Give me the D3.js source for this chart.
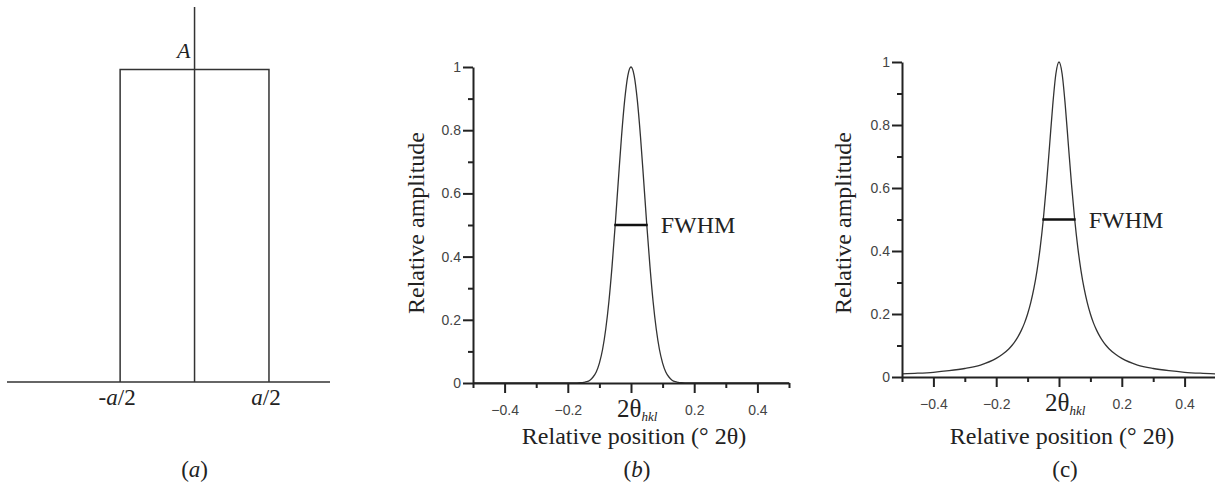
<!DOCTYPE html>
<html>
<head>
<meta charset="utf-8">
<script src="https://cdn.jsdelivr.net/npm/d3@7"></script>
<style>
  body { margin: 0; background: #fff; }
  .serif { font-family: "Liberation Serif", "Times New Roman", serif; fill: #222; }
</style>
</head>
<body>
<div id="chart-area"></div>
<script>
/*
*    profile shapes: box, gaussian, lorentzian
*/

// panel (a) box function
var boxEdges = [-0.5, 0.5];
var boxHeight = 1;
var boxLabels = ["-a/2", "a/2"];

// panels (b) and (c) profile samples
var posX = [-0.5, -0.45, -0.4, -0.35, -0.3, -0.25, -0.2, -0.18, -0.16, -0.15, -0.14, -0.13, -0.12, -0.11, -0.1,
            -0.09, -0.08, -0.07, -0.06, -0.05, -0.04, -0.03, -0.02, -0.01, 0,
            0.01, 0.02, 0.03, 0.04, 0.05, 0.06, 0.07, 0.08, 0.09, 0.1,
            0.11, 0.12, 0.13, 0.14, 0.15, 0.16, 0.18, 0.2, 0.25, 0.3, 0.35, 0.4, 0.45, 0.5];
var gaussY = [0, 0, 0, 0, 0, 0, 0, 0, 0.001, 0.002, 0.004, 0.009, 0.019, 0.035, 0.063,
              0.106, 0.17, 0.257, 0.369, 0.5, 0.642, 0.78, 0.895, 0.973, 1,
              0.973, 0.895, 0.78, 0.642, 0.5, 0.369, 0.257, 0.17, 0.106, 0.063,
              0.035, 0.019, 0.009, 0.004, 0.002, 0.001, 0, 0, 0, 0, 0, 0, 0, 0];
var lorentzY = [0.01, 0.012, 0.015, 0.02, 0.027, 0.038, 0.059, 0.072, 0.089, 0.1, 0.113, 0.129, 0.148, 0.171, 0.2,
                0.236, 0.281, 0.338, 0.41, 0.5, 0.61, 0.735, 0.862, 0.962, 1,
                0.962, 0.862, 0.735, 0.61, 0.5, 0.41, 0.338, 0.281, 0.236, 0.2,
                0.171, 0.148, 0.129, 0.113, 0.1, 0.089, 0.072, 0.059, 0.038, 0.027, 0.02, 0.015, 0.012, 0.01];
var fwhmHalf = 0.053;

var xMajor = [-0.4, -0.2, 0, 0.2, 0.4];
var xMinor = [-0.5, -0.3, -0.1, 0.1, 0.3, 0.5];
var yMajor = [0, 0.2, 0.4, 0.6, 0.8, 1];
var yMinor = [0.1, 0.3, 0.5, 0.7, 0.9];

var svg = d3.select("#chart-area").append("svg").attr("width", 1215).attr("height", 487)
            .style("background", "#fff");

// ---------- panel (a) ----------
var ax = d3.scaleLinear().domain([-1.26, 0.91]).range([7, 330]);
var ay = d3.scaleLinear().domain([0, 1.2]).range([382, 7]);
var ga = svg.append("g");

ga.append("line").attr("x1", ax(-1.26)).attr("x2", ax(0.91)).attr("y1", ay(0)).attr("y2", ay(0))
  .attr("stroke", "#333").attr("stroke-width", 1.5);
ga.append("line").attr("x1", ax(0)).attr("x2", ax(0)).attr("y1", ay(0)).attr("y2", ay(1.2))
  .attr("stroke", "#333").attr("stroke-width", 1.5);
ga.append("path")
  .attr("d", d3.line()([[ax(boxEdges[0]), ay(0)], [ax(boxEdges[0]), ay(boxHeight)],
                        [ax(boxEdges[1]), ay(boxHeight)], [ax(boxEdges[1]), ay(0)]]))
  .attr("fill", "none").attr("stroke", "#333").attr("stroke-width", 1.5);

ga.append("text").attr("class", "serif").attr("x", ax(0) - 4).attr("y", ay(boxHeight) - 12)
  .attr("text-anchor", "end").attr("font-size", "22px").attr("font-style", "italic").text("A");

boxLabels.forEach((lab, i) => {
    var t = ga.append("text").attr("class", "serif").attr("x", ax(boxEdges[i]) - 3).attr("y", 405)
              .attr("text-anchor", "middle").attr("font-size", "23px");
    var neg = lab[0] == "-";
    if (neg) t.append("tspan").text("-");
    t.append("tspan").attr("font-style", "italic").text("a");
    t.append("tspan").text("/2");
});

var capA = ga.append("text").attr("class", "serif").attr("x", ax(0)).attr("y", 477)
             .attr("text-anchor", "middle").attr("font-size", "23px");
capA.append("tspan").text("(");
capA.append("tspan").attr("font-style", "italic").text("a");
capA.append("tspan").text(")");

// ---------- profile panels ----------
function drawPanel(opts) {
    var x = d3.scaleLinear().domain([-0.5, 0.5]).range(opts.xRange);
    var y = d3.scaleLinear().domain([0, 1]).range(opts.yRange);
    var g = svg.append("g");

    // curve
    var pts = posX.map((d, i) => [d, opts.values[i]]);
    g.append("path").attr("d", d3.line().x(d => x(d[0])).y(d => y(d[1])).curve(d3.curveMonotoneX)(pts))
     .attr("fill", "none").attr("stroke", "#333").attr("stroke-width", 1.3);

    // x axis
    var xAxis = d3.axisBottom(x).tickValues(xMajor).tickSize(10).tickSizeOuter(0)
                  .tickFormat(d => d == 0 ? "" : d3.format(".1f")(d));
    var gx = g.append("g").attr("transform", "translate(0," + y(0) + ")").call(xAxis);
    gx.selectAll("text").attr("dy", "0").attr("y", 32);
    g.append("g").attr("transform", "translate(0," + y(0) + ")")
     .call(d3.axisBottom(x).tickValues(xMinor).tickSize(5).tickFormat(""))
     .select(".domain").remove();

    // y axis
    var yAxis = d3.axisLeft(y).tickValues(yMajor).tickSize(10).tickSizeOuter(0)
                  .tickFormat(d => d3.format("~g")(d));
    var gy = g.append("g").attr("transform", "translate(" + x(-0.5) + ",0)").call(yAxis);
    gy.selectAll("text").attr("x", -12);
    g.append("g").attr("transform", "translate(" + x(-0.5) + ",0)")
     .call(d3.axisLeft(y).tickValues(yMinor).tickSize(5).tickFormat(""))
     .select(".domain").remove();

    g.selectAll(".domain, .tick line").attr("stroke", "#222").attr("stroke-width", 2);
    g.selectAll(".tick text").style("font-family", "'Liberation Sans', Arial, sans-serif")
     .style("font-size", "14px").style("fill", "#444");

    // 2theta_hkl label at zero
    var t0 = g.append("text").attr("class", "serif").attr("x", x(0) - 14).attr("y", y(0) + 34)
              .attr("font-size", "25px");
    t0.append("tspan").text("2θ");
    t0.append("tspan").attr("font-size", "13px").attr("font-style", "italic").attr("dy", 4).text("hkl");

    // FWHM marker
    g.append("line").attr("x1", x(-fwhmHalf)).attr("x2", x(fwhmHalf)).attr("y1", y(0.5)).attr("y2", y(0.5))
     .attr("stroke", "#111").attr("stroke-width", 2.5);
    g.append("text").attr("class", "serif").attr("x", x(fwhmHalf) + 13).attr("y", y(0.5) + 8)
     .attr("font-size", "24px").text("FWHM");

    // titles
    g.append("text").attr("class", "serif").attr("x", -223).attr("y", opts.yTitleX)
     .attr("transform", "rotate(-90)").attr("text-anchor", "middle").attr("dominant-baseline", "middle")
     .attr("font-size", "24px").text("Relative amplitude");
    g.append("text").attr("class", "serif").attr("x", x(0) + 3).attr("y", 444)
     .attr("text-anchor", "middle").attr("font-size", "24px").text("Relative position (° 2θ)");

    var cap = g.append("text").attr("class", "serif").attr("x", x(0) + 6).attr("y", 477)
               .attr("text-anchor", "middle").attr("font-size", "23px");
    cap.append("tspan").text("(");
    cap.append("tspan").attr("font-style", opts.italicCap ? "italic" : "normal").text(opts.cap);
    cap.append("tspan").text(")");
}

drawPanel({xRange: [473, 789], yRange: [383, 67], values: gaussY, yTitleX: 418, cap: "b", italicCap: true});
drawPanel({xRange: [902, 1216], yRange: [377, 62], values: lorentzY, yTitleX: 845, cap: "c", italicCap: false});
</script>
</body>
</html>
